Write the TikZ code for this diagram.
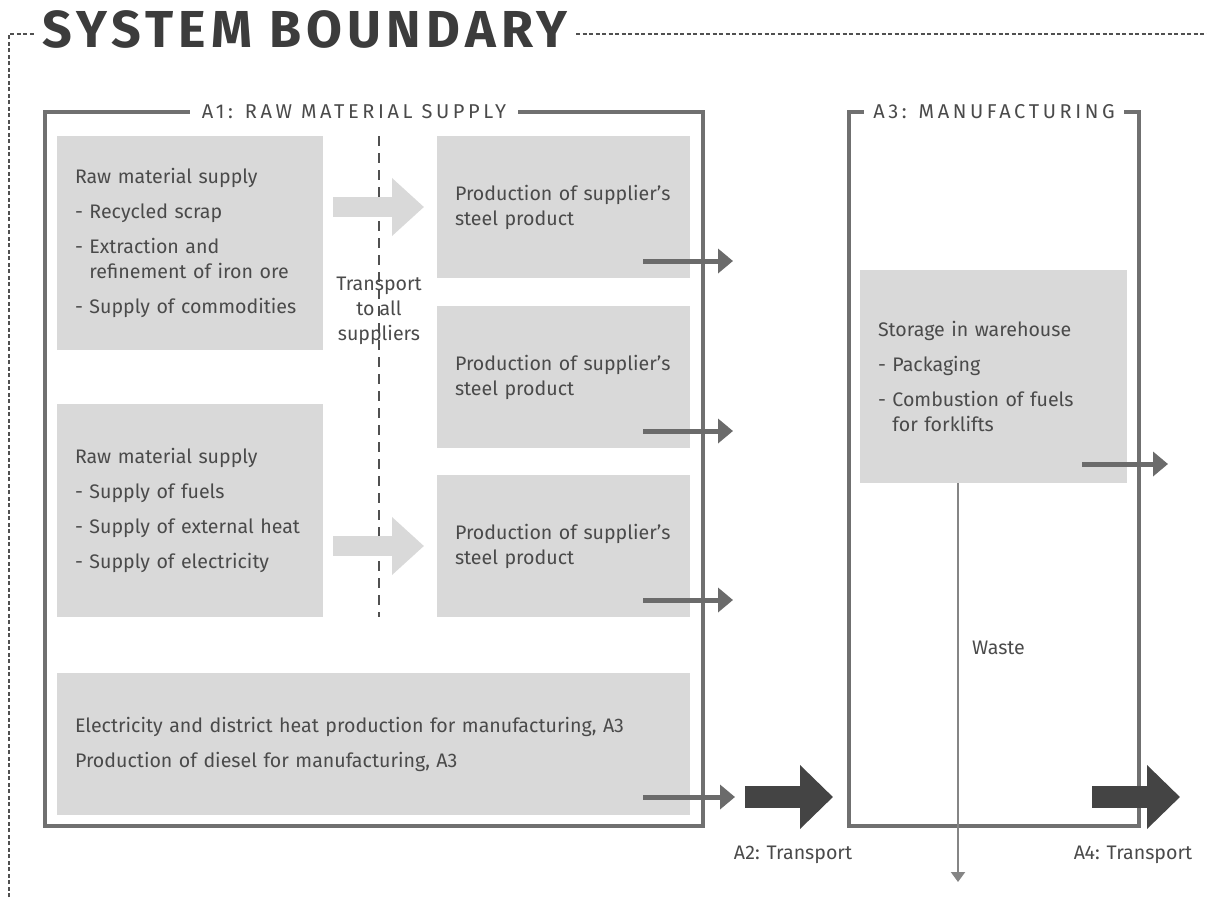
\documentclass[tikz,border=0pt]{standalone}
\usepackage{fontspec}
\setmainfont{Fira Sans}
\newfontfamily\titlefont[LetterSpace=10]{Fira Sans}
\newfontfamily\labelfont[LetterSpace=18]{Fira Sans}
\usetikzlibrary{arrows.meta,calc}
\definecolor{boxgray}{HTML}{D9D9D9}
\definecolor{framegray}{HTML}{707070}
\definecolor{txtgray}{HTML}{4A4A4A}
\definecolor{arrowmid}{HTML}{6B6B6B}
\definecolor{arrowdark}{HTML}{444444}
\definecolor{titlegray}{HTML}{3C3C3C}
\definecolor{dashgray}{HTML}{505050}
\definecolor{wastegray}{HTML}{858585}
\begin{document}
\begin{tikzpicture}[x=1pt,y=-1pt,
  bodyfont/.style={font=\fontsize{19.6}{25}\selectfont, text=txtgray},
  gbox/.style={bodyfont, fill=boxgray, draw=none, anchor=north west, align=left,
    inner xsep=18pt, inner ysep=0pt, outer sep=0pt,
    execute at begin node={\hyphenpenalty=10000 \exhyphenpenalty=10000 \hfuzz=50pt}},
  frame/.style={draw=framegray, line width=4pt, anchor=north west, inner sep=0pt, outer sep=0pt},
  framelabel/.style={font=\labelfont\fontsize{20}{22}\selectfont, text=txtgray, fill=white, inner xsep=12pt, inner ysep=2pt},
  outarrow/.style={draw=arrowmid, line width=5pt, -{Triangle[length=15pt,width=24pt]}},
  lightarrow/.style={draw=boxgray, line width=20pt, -{Triangle[length=32pt,width=56pt]}},
  bigarrow/.style={draw=arrowdark, line width=22pt, -{Triangle[length=33pt,width=62pt]}},
  wastearrow/.style={draw=wastegray, line width=2pt, -{Triangle[length=10pt,width=14pt]}},
  divider/.style={draw=dashgray, line width=2.2pt, dash pattern=on 10pt off 7pt},
  boundary/.style={draw=dashgray, line width=1.4pt, dash pattern=on 4pt off 2.5pt},
  plainlabel/.style={bodyfont, inner sep=0pt}
]
\useasboundingbox (0,0) rectangle (1207,897);

% system boundary
\coordinate (sbl) at (9,897);
\coordinate (sbc) at (9,34);
\coordinate (sbr) at (1207,34);
\draw[boundary] (sbl) -- (sbc) -- (sbr);
\node[font=\titlefont\bfseries\fontsize{52}{60}\selectfont, text=titlegray, fill=white, inner xsep=8pt, inner ysep=2pt] (title) at (305,29) {SYSTEM BOUNDARY};

% frames
\node[frame, minimum width=658pt, minimum height=714pt] (A1) at (45,112) {};
\node[framelabel] (A1l) at (354,112) {A1: RAW MATERIAL SUPPLY};
\node[frame, minimum width=290pt, minimum height=714pt] (A3) at (849,112) {};
\node[framelabel, inner xsep=9pt] (A3l) at (994,112) {A3: MANUFACTURING};

% grey boxes
\node[gbox, minimum width=266pt, minimum height=214pt, text width=230pt] (b1) at (57,136)
  {Raw material supply\\[10pt]
   - Recycled scrap\\[10pt]
   - Extraction and\\
   \hphantom{- }refinement of iron ore\\[10pt]
   - Supply of commodities};
\node[gbox, minimum width=266pt, minimum height=213pt, text width=230pt] (b4) at (57,404)
  {Raw material supply\\[10pt]
   - Supply of fuels\\[10pt]
   - Supply of external heat\\[10pt]
   - Supply of electricity};
\node[gbox, inner xsep=16pt, minimum width=253pt, minimum height=142pt, text width=221pt] (b2) at (437,136)
  {\hspace*{2pt}Production of supplier's\\\hspace*{2pt}steel product};
\node[gbox, inner xsep=16pt, minimum width=253pt, minimum height=142pt, text width=221pt] (b3) at (437,306)
  {\hspace*{2pt}Production of supplier's\\\hspace*{2pt}steel product};
\node[gbox, inner xsep=16pt, minimum width=253pt, minimum height=142pt, text width=221pt] (b5) at (437,475)
  {\hspace*{2pt}Production of supplier's\\\hspace*{2pt}steel product};
\node[gbox, minimum width=633pt, minimum height=142pt, text width=597pt] (b6) at (57,673)
  {Electricity and district heat production for manufacturing, A3\\[10pt]
   Production of diesel for manufacturing, A3};
\node[gbox, minimum width=267pt, minimum height=213pt, text width=231pt] (b7) at (860,270)
  {Storage in warehouse\\[10pt]
   - Packaging\\[10pt]
   - Combustion of fuels\\
   \hphantom{- }for forklifts};

% transport divider
\coordinate (dtop) at (379,136);
\coordinate (dbot) at (379,617);
\draw[divider] (dtop) -- (dbot);
\node[bodyfont, align=center, inner sep=0pt] (tr) at (379,311) {Transport\\to all\\suppliers};

% light arrows
\draw[lightarrow, shorten <=10pt, shorten >=13pt] (b1.east |- b2.center) -- (b2.west);
\draw[lightarrow, shorten <=10pt, shorten >=13pt] (b4.east |- b5.center) -- (b5.west);

% output arrows
\draw[outarrow] ($(b2.south east)+(-47,-17)$) -- ($(b2.south east)+(43,-17)$);
\draw[outarrow] ($(b3.south east)+(-47,-17)$) -- ($(b3.south east)+(43,-17)$);
\draw[outarrow] ($(b5.south east)+(-47,-17)$) -- ($(b5.south east)+(43,-17)$);
\draw[outarrow] ($(b6.south east)+(-47,-18)$) -- ($(b6.south east)+(45,-18)$);
\draw[outarrow] ($(b7.south east)+(-45,-19)$) -- ($(b7.south east)+(41,-19)$);

% transport arrows
\coordinate (a2s) at (745,797);
\coordinate (a2e) at (833,797);
\draw[bigarrow] (a2s) -- (a2e);
\node[plainlabel] (a2l) at (793,855) {A2: Transport};
\coordinate (a4s) at (1092,797);
\coordinate (a4e) at (1180,797);
\draw[bigarrow] (a4s) -- (a4e);
\node[plainlabel] (a4l) at (1133,855) {A4: Transport};

% waste
\coordinate (wend) at (958,882);
\draw[wastearrow] (b7.south -| wend) -- (wend);
\node[plainlabel, anchor=west] (waste) at (972,648) {Waste};
\end{tikzpicture}
\end{document}
